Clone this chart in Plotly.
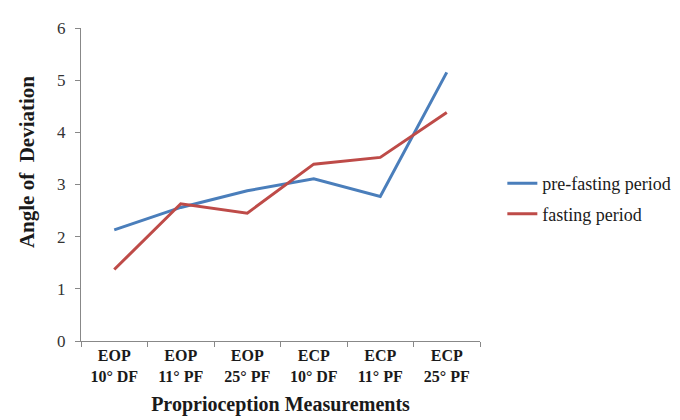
import plotly.graph_objects as go

categories = ["EOP<br>10° DF", "EOP<br>11° PF", "EOP<br>25° PF",
              "ECP<br>10° DF", "ECP<br>11° PF", "ECP<br>25° PF"]
pre_fasting = [2.13, 2.56, 2.88, 3.11, 2.77, 5.15]
fasting = [1.37, 2.63, 2.45, 3.39, 3.52, 4.38]
y_ticks = [0, 1, 2, 3, 4, 5, 6]

serif = "Times New Roman, Liberation Serif, serif"

fig = go.Figure()
fig.add_trace(go.Scatter(x=categories, y=pre_fasting, mode="lines",
                         name="pre-fasting period", legendgroup="a",
                         line=dict(color="#4A7EBB", width=3)))
fig.add_trace(go.Scatter(x=categories, y=fasting, mode="lines",
                         name="fasting period", legendgroup="b",
                         line=dict(color="#BE4B48", width=3)))

fig.update_layout(
    width=680, height=420,
    margin=dict(l=73, r=199, t=20, b=87),
    paper_bgcolor="white", plot_bgcolor="white",
    font=dict(family=serif, color="#1a1a1a"),
    legend=dict(x=1.056, y=0.455, xanchor="left", yanchor="middle",
                font=dict(size=18, family=serif, color="#1a1a1a"),
                tracegroupgap=4, itemwidth=30, bgcolor="rgba(0,0,0,0)"),
    showlegend=True,
    annotations=[dict(text="<b>Angle of  Deviation</b>", xref="paper",
                      yref="paper", x=-0.135, y=0.572, xanchor="center",
                      yanchor="middle", textangle=-90, showarrow=False,
                      font=dict(size=21, family=serif, color="#1a1a1a"))],
)
fig.update_xaxes(
    type="category", range=[-0.5, 5.5], showgrid=False, showline=True,
    linecolor="#888888", linewidth=1, ticks="outside", tickson="boundaries",
    ticklen=5, tickcolor="#888888",
    tickfont=dict(size=16, family=serif, color="#1a1a1a"),
    tickprefix="<b>", ticksuffix="</b>",
    title=dict(text="<b>Proprioception Measurements</b>",
               font=dict(size=20, family=serif, color="#1a1a1a"), standoff=12),
)
fig.update_yaxes(
    range=[0, 6], tickvals=y_ticks, showgrid=False, zeroline=False,
    showline=True, linecolor="#888888", linewidth=1, ticks="outside",
    ticklen=5, tickcolor="#888888", ticklabelstandoff=6,
    tickfont=dict(size=17, family=serif, color="#333333"),
)

fig.write_html("out.html")
